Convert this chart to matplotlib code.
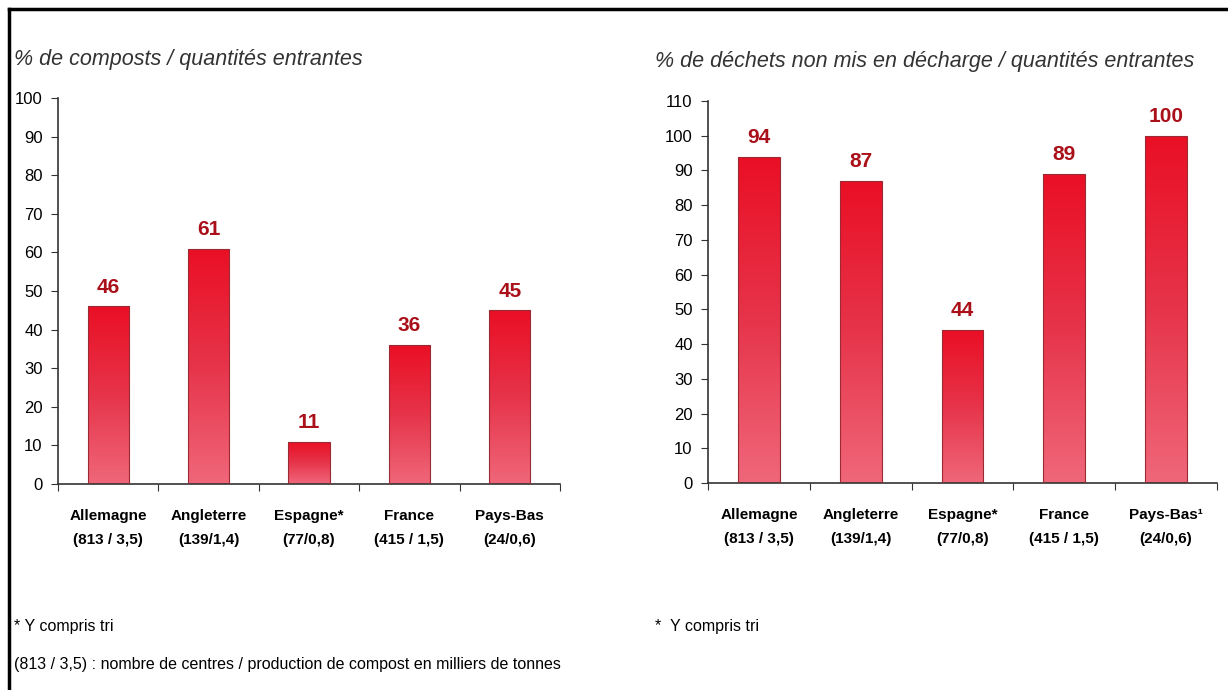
import numpy as np
import matplotlib.pyplot as plt
from matplotlib.colors import LinearSegmentedColormap

pays = ["Allemagne", "Angleterre", "Espagne*", "France", "Pays-Bas"]
pays_droite = ["Allemagne", "Angleterre", "Espagne*", "France", "Pays-Bas\u00b9"]
centres = ["(813 / 3,5)", "(139/1,4)", "(77/0,8)", "(415 / 1,5)", "(24/0,6)"]
composts = [46, 61, 11, 36, 45]
non_decharge = [94, 87, 44, 89, 100]

plt.rcParams['font.family'] = ['Liberation Sans', 'DejaVu Sans']

grad = LinearSegmentedColormap.from_list("g", ["#ea0f25", "#e6344a", "#f0677a"])
edge = "#9a2a33"
lab_col = "#aa1019"

fig = plt.figure(figsize=(12.28, 6.9), dpi=100)
fig.patch.set_facecolor("white")

# cadre (haut et gauche)
fig.add_artist(plt.Line2D([9/1228, 1], [1-9/690, 1-9/690], color="black", lw=2.5))
fig.add_artist(plt.Line2D([9/1228, 9/1228], [0, 1-9/690], color="black", lw=2.5))


def barres(ax, vals, ymax, step, noms):
    x = np.arange(len(vals))
    bars = ax.bar(x, vals, width=0.41, color="none", edgecolor=edge, lw=0.8, zorder=3)
    g = np.linspace(0, 1, 256).reshape(-1, 1)
    for b in bars:
        x0, y0 = b.get_x(), b.get_y()
        im = ax.imshow(g, cmap=grad, aspect="auto", origin="upper",
                       extent=(x0, x0 + b.get_width(), y0, y0 + b.get_height()), zorder=2)
        im.set_clip_path(b)
    for xi, v in zip(x, vals):
        ax.annotate(str(v), (xi, v), xytext=(0, 7), textcoords="offset points",
                    ha="center", va="bottom", fontsize=15, fontweight="bold", color=lab_col)
    ax.set_xlim(-0.5, len(vals) - 0.5)
    ax.set_ylim(0, ymax)
    ax.set_yticks(np.arange(0, ymax + 1, step))
    ax.set_xticks(np.arange(len(vals) + 1) - 0.5)
    ax.set_xticklabels([])
    ax.tick_params(axis="both", direction="out", length=5, color="#333333", labelsize=12)
    ax.tick_params(axis="y", pad=6)
    for s in ["top", "right"]:
        ax.spines[s].set_visible(False)
    for s in ["left", "bottom"]:
        ax.spines[s].set_color("#333333")
        ax.spines[s].set_linewidth(1.2)
    for xi, n, c in zip(x, noms, centres):
        ax.text(xi, -0.065, n + "\n" + c, transform=ax.get_xaxis_transform(),
                ha="center", va="top", fontsize=11, fontweight="bold", linespacing=1.9)


ax1 = fig.add_axes([58/1228, 1-484/690, 502/1228, 386/690])
barres(ax1, composts, 100, 10, pays)
ax2 = fig.add_axes([708/1228, 1-483/690, 509/1228, 382/690])
barres(ax2, non_decharge, 110, 10, pays_droite)

fig.text(14/1228, 1-60/690, "% de composts / quantités entrantes", fontsize=15.5,
         style="italic", color="#333333", va="center")
fig.text(655/1228, 1-62/690, "% de déchets non mis en décharge / quantités entrantes", fontsize=15.5,
         style="italic", color="#333333", va="center")
fig.text(14/1228, 1-627/690, "* Y compris tri", fontsize=11.5, va="center")
fig.text(655/1228, 1-627/690, "*  Y compris tri", fontsize=11.5, va="center")
fig.text(14/1228, 1-665/690,
         "(813 / 3,5) : nombre de centres / production de compost en milliers de tonnes",
         fontsize=11.5, va="center")

fig.savefig("out.png", dpi=100, facecolor="white")
